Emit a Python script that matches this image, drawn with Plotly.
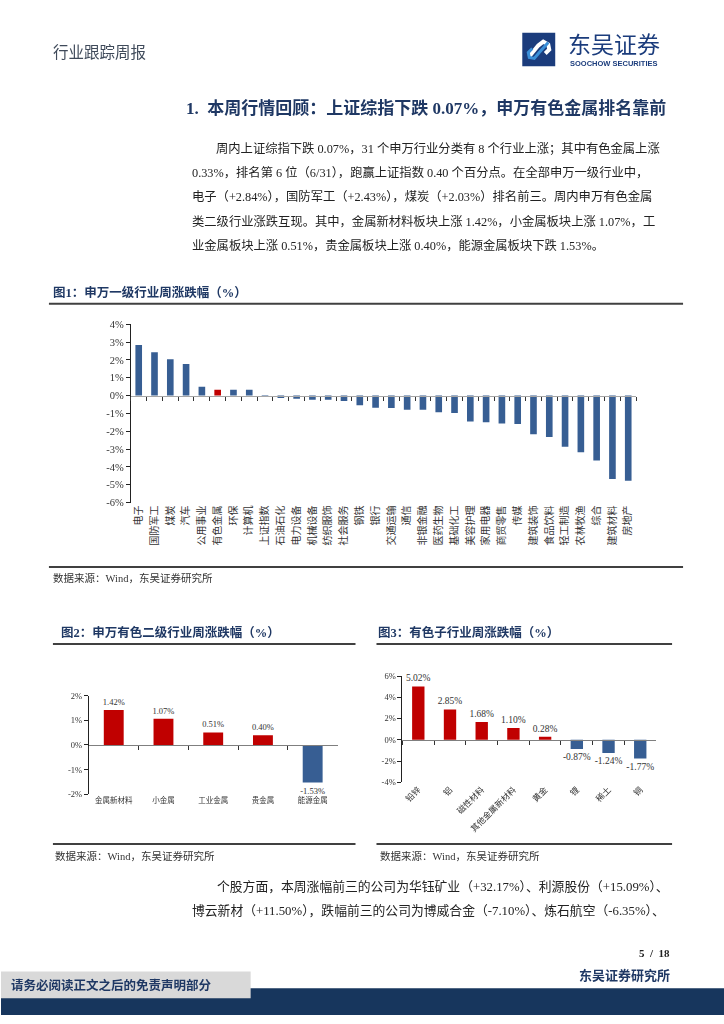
import plotly.graph_objects as go

W, H = 724, 1024
def px(x): return x / W
def py(y): return 1 - y / H

# ---------------- data ----------------
cats1 = ['电子', '国防军工', '煤炭', '汽车', '公用事业', '有色金属', '环保', '计算机', '上证指数',
         '石油石化', '电力设备', '机械设备', '纺织服饰', '社会服务', '钢铁', '银行', '交通运输', '通信',
         '非银金融', '医药生物', '基础化工', '美容护理', '家用电器', '商贸零售', '传媒', '建筑装饰',
         '食品饮料', '轻工制造', '农林牧渔', '综合', '建筑材料', '房地产']
vals1 = [2.84, 2.43, 2.03, 1.77, 0.50, 0.33, 0.33, 0.32, -0.07,
         -0.13, -0.18, -0.24, -0.24, -0.30, -0.54, -0.68, -0.69, -0.80,
         -0.80, -0.94, -0.98, -1.46, -1.50, -1.56, -1.60, -2.17,
         -2.32, -2.87, -3.18, -3.64, -4.68, -4.77]
ticks1 = [-6, -5, -4, -3, -2, -1, 0, 1, 2, 3, 4]

cats2 = ['金属新材料', '小金属', '工业金属', '贵金属', '能源金属']
vals2 = [1.42, 1.07, 0.51, 0.40, -1.53]
ticks2 = [-2, -1, 0, 1, 2]

cats3 = ['铅锌', '铝', '磁性材料', '其他金属新材料', '黄金', '锂', '稀土', '铜']
vals3 = [5.02, 2.85, 1.68, 1.10, 0.28, -0.87, -1.24, -1.77]
ticks3 = [-4, -2, 0, 2, 4, 6]

BLUE = '#375E93'
RED = '#C00000'
NAVY = '#1F3864'
SERIF = 'Liberation Serif, Noto Sans CJK SC'
CJK = 'Noto Sans CJK SC'

col1 = [RED if c == '有色金属' else BLUE for c in cats1]
col2 = [RED if v >= 0 else BLUE for v in vals2]
col3 = [RED if v >= 0 else BLUE for v in vals3]

fig = go.Figure()
fig.add_trace(go.Bar(x=cats1, y=vals1, marker=dict(color=col1, line=dict(width=0)),
                     width=0.42, xaxis='x', yaxis='y', hoverinfo='skip'))
fig.add_trace(go.Scatter(x=cats1, y=vals1, mode='markers', opacity=0, xaxis='x4', yaxis='y',
                         hoverinfo='skip', showlegend=False))
fig.add_trace(go.Bar(x=cats2, y=vals2, marker=dict(color=col2, line=dict(width=0)),
                     width=0.40, xaxis='x2', yaxis='y2', hoverinfo='skip',
                     text=[f'{v:.2f}%' for v in vals2], textposition='outside', constraintext='none',
                     textfont=dict(family=SERIF, size=8.5, color='#333333'), cliponaxis=False))
fig.add_trace(go.Scatter(x=cats2, y=vals2, mode='markers', opacity=0, xaxis='x5', yaxis='y2',
                         hoverinfo='skip', showlegend=False))
fig.add_trace(go.Bar(x=cats3, y=vals3, marker=dict(color=col3, line=dict(width=0)),
                     width=0.39, xaxis='x3', yaxis='y3', hoverinfo='skip',
                     text=[f'{v:.2f}%' for v in vals3], textposition='outside', constraintext='none',
                     textfont=dict(family=SERIF, size=9.5, color='#333333'), cliponaxis=False))
fig.add_trace(go.Scatter(x=cats3, y=vals3, mode='markers', opacity=0, xaxis='x6', yaxis='y3',
                         hoverinfo='skip', showlegend=False))

def main_x(dom_x, anchor, n, angle, size):
    return dict(domain=dom_x, anchor=anchor, type='category', range=[-0.5, n - 0.5],
                showline=False, ticks='', showgrid=False, zeroline=False, tickangle=angle,
                tickfont=dict(family=CJK, size=size, color='#333333'), fixedrange=True)

def zero_x(over, pos, n, linecolor):
    return dict(overlaying=over, anchor='free', position=pos, side='bottom', type='category',
                range=[-0.5, n - 0.5], showline=True, linecolor=linecolor, linewidth=1.2,
                ticks='outside', tickson='boundaries', ticklen=4, tickcolor='#333333',
                showticklabels=False, showgrid=False, zeroline=False)

def main_y(dom_y, anchor, rng, tv, size):
    return dict(domain=dom_y, anchor=anchor, range=rng, tickvals=tv, ticktext=[f'{t}%' for t in tv],
                showline=True, linecolor='#222222', linewidth=1, ticks='outside', ticklen=4,
                tickcolor='#222222', showgrid=False, zeroline=False,
                tickfont=dict(family=SERIF, size=size, color='#333333'))

# chart domains (pixels)
c1x, c1y = [px(130), px(636)], [py(503), py(322.7)]
c2x, c2y = [px(88), px(337)], [py(797.7), py(698.3)]
c3x, c3y = [px(402), px(656)], [py(785.7), py(678.3)]

def zero_pos(dy, rng):
    return dy[0] + (dy[1] - dy[0]) * (0 - rng[0]) / (rng[1] - rng[0])

fig.update_layout(
    xaxis=main_x(c1x, 'y', len(cats1), -90, 10),
    yaxis=main_y(c1y, 'x', [-6, 4], ticks1, 10.5),
    xaxis4=zero_x('x', zero_pos(c1y, [-6, 4]), len(cats1), '#A6A6A6'),
    xaxis2=main_x(c2x, 'y2', len(cats2), 0, 7.5),
    yaxis2=main_y(c2y, 'x2', [-2, 2], ticks2, 8.5),
    xaxis5=zero_x('x2', zero_pos(c2y, [-2, 2]), len(cats2), '#7F7F7F'),
    xaxis3=main_x(c3x, 'y3', len(cats3), -45, 8.5),
    yaxis3=main_y(c3y, 'x3', [-4, 6], ticks3, 8.5),
    xaxis6=zero_x('x3', zero_pos(c3y, [-4, 6]), len(cats3), '#7F7F7F'),
)

shapes = []
annots = []

def text(x, y, s, size, color='#333333', family=CJK, anchor='left', bold=False):
    if bold:
        s = f'<b>{s}</b>'
    annots.append(dict(x=px(x), y=py(y), xref='paper', yref='paper', text=s, showarrow=False,
                       xanchor=anchor, yanchor='middle', font=dict(size=size, color=color, family=family)))

def hline(x0, x1, y, color, w):
    shapes.append(dict(type='line', xref='paper', yref='paper', x0=px(x0), x1=px(x1), y0=py(y), y1=py(y),
                       line=dict(color=color, width=w)))

def rect(x0, y0, x1, y1, color):
    shapes.append(dict(type='rect', xref='paper', yref='paper', x0=px(x0), x1=px(x1), y0=py(y1), y1=py(y0),
                       fillcolor=color, line=dict(width=0), layer='below'))

# header
text(50, 46, '行业跟踪周报', 15.5, '#3F4A5A')
rect(522, 28, 555, 62, '#1B3C7C')
def pth(points):
    return 'M ' + ' L '.join(f'{px(a)} {py(b)}' for a, b in points)
shapes.append(dict(type='path', xref='paper', yref='paper',
                   path=pth([(529, 52), (538, 41), (543, 37), (548, 40), (549, 45), (545, 49)]),
                   line=dict(color='white', width=4)))
shapes.append(dict(type='path', xref='paper', yref='paper',
                   path=pth([(548, 38), (539, 48), (534, 54), (529, 53), (528, 48), (532, 44)]),
                   line=dict(color='#3A8FD8', width=3)))
text(566, 38, '东吴证券', 23, '#1B3C7C')
text(568, 59, '<b>SOOCHOW SECURITIES</b>', 7.5, '#1B3C7C', 'Liberation Sans')

# heading & paragraph
text(668, 104, '1.  本周行情回顾：上证综指下跌 0.07%，申万有色金属排名靠前', 17, NAVY, SERIF, 'right', True)
para = [
    (213, '周内上证综指下跌 0.07%，31 个申万行业分类有 8 个行业上涨；其中有色金属上涨'),
    (189, '0.33%，排名第 6 位（6/31），跑赢上证指数 0.40 个百分点。在全部申万一级行业中，'),
    (189, '电子（+2.84%），国防军工（+2.43%），煤炭（+2.03%）排名前三。周内申万有色金属'),
    (189, '类二级行业涨跌互现。其中，金属新材料板块上涨 1.42%，小金属板块上涨 1.07%，工'),
    (189, '业金属板块上涨 0.51%，贵金属板块上涨 0.40%，能源金属板块下跌 1.53%。'),
]
for i, (x0, s) in enumerate(para):
    text(x0, 145 + 24.5 * i, s, 12.3, '#222222', SERIF)

# chart titles and rules
text(50, 291, '图1：申万一级行业周涨跌幅（%）', 12.5, NAVY, SERIF, bold=True)
hline(48, 683, 302, '#404040', 2)
hline(48, 683, 568, '#404040', 2)
text(50, 579, '数据来源：Wind，东吴证券研究所', 10.5, '#333333', SERIF)

text(58, 634, '图2：申万有色二级行业周涨跌幅（%）', 12.5, NAVY, SERIF, bold=True)
hline(52, 355, 646, '#404040', 2)
text(376, 634, '图3：有色子行业周涨跌幅（%）', 12.5, NAVY, SERIF, bold=True)
hline(376, 672, 646, '#404040', 2)
hline(52, 355, 848, '#404040', 2)
hline(376, 672, 848, '#404040', 2)
text(52, 860, '数据来源：Wind，东吴证券研究所', 10.5, '#333333', SERIF)
text(378, 860, '数据来源：Wind，东吴证券研究所', 10.5, '#333333', SERIF)

text(214, 891, '个股方面，本周涨幅前三的公司为华钰矿业（+32.17%）、利源股份（+15.09%）、', 12.8, '#222222', SERIF)
text(189, 915, '博云新材（+11.50%），跌幅前三的公司为博威合金（-7.10%）、炼石航空（-6.35%）、', 12.8, '#222222', SERIF)

# footer
text(672, 958, '5  /  18', 11, '#222222', SERIF, 'right', True)
text(672, 981, '东吴证券研究所', 13, NAVY, SERIF, 'right', True)
rect(0, 994, 724, 1021, '#17365D')
rect(0, 977, 250, 1004, '#D9D9D9')
text(8, 991, '请务必阅读正文之后的免责声明部分', 12.5, NAVY, SERIF, bold=True)

fig.update_layout(width=W, height=H, margin=dict(l=0, r=0, t=0, b=0),
                  paper_bgcolor='white', plot_bgcolor='rgba(0,0,0,0)',
                  showlegend=False, shapes=shapes, annotations=annots)

fig.write_html('out.html', config={'displayModeBar': False, 'staticPlot': True},
               post_script="document.body.style.margin='0';document.body.style.padding='0';"
                           "document.documentElement.style.overflow='hidden';")
